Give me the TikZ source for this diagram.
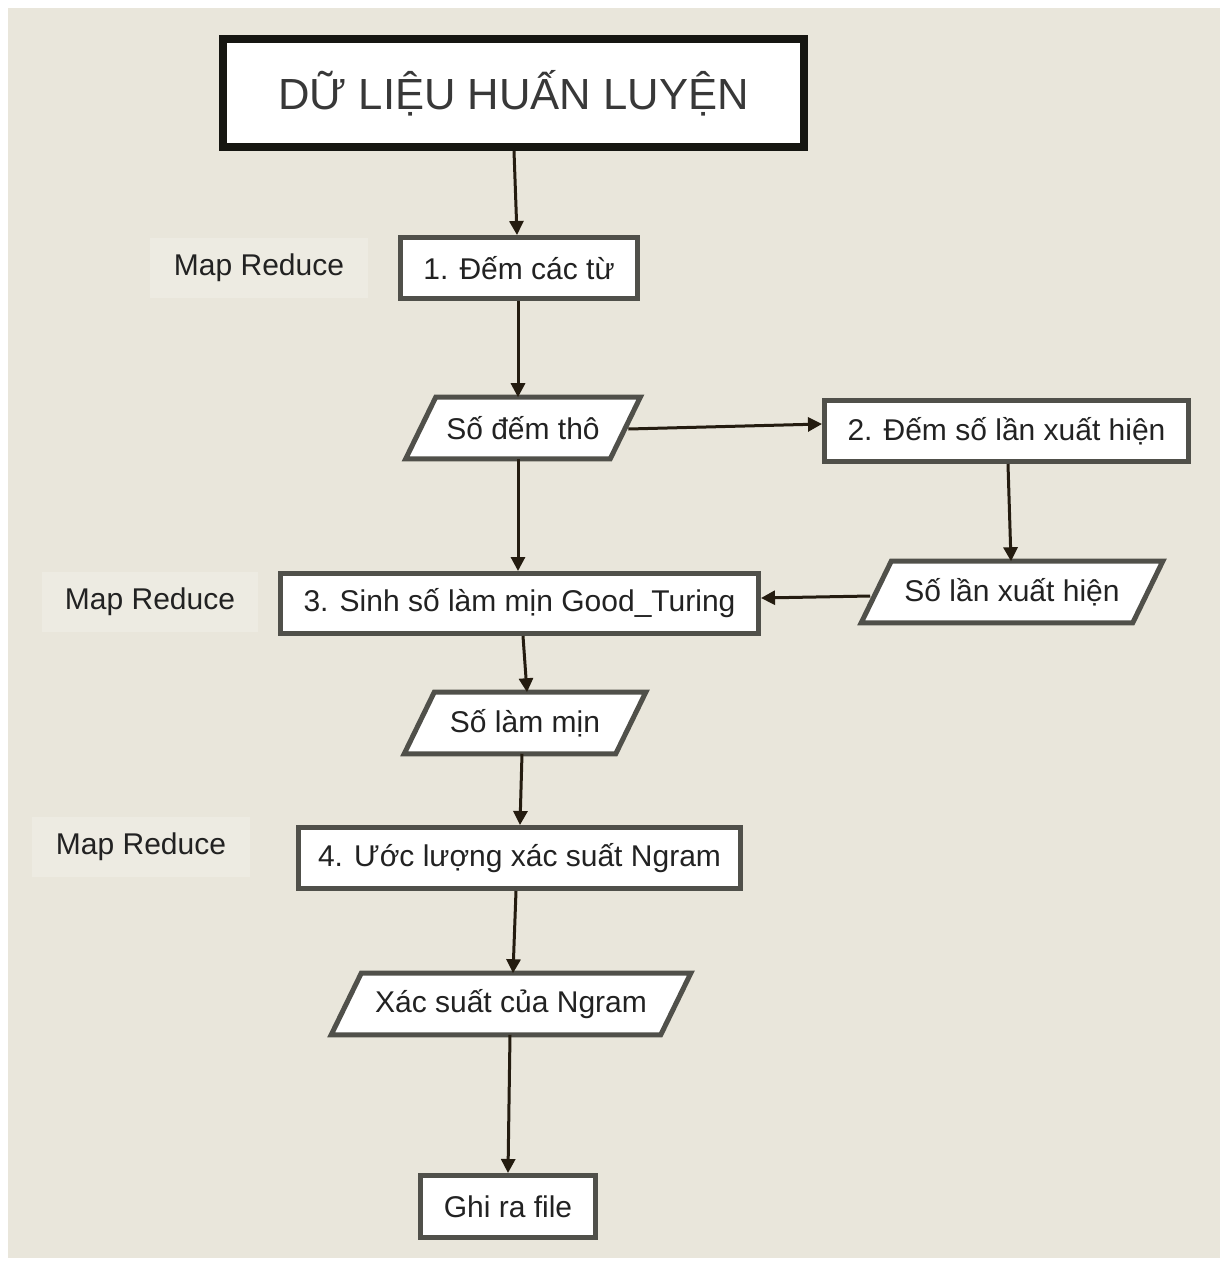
\documentclass[tikz,border=0pt]{standalone}
\usepackage{fontspec}
\setmainfont{Liberation Sans}
\usetikzlibrary{arrows.meta,calc,backgrounds}

\definecolor{page}{HTML}{E9E6DB}
\definecolor{tagfill}{HTML}{EDEBE2}
\definecolor{boxline}{HTML}{50504A}
\definecolor{heavyline}{HTML}{161611}
\definecolor{ink}{HTML}{222222}
\definecolor{flowline}{HTML}{241C10}

% lengths given in pixels of the 1229 x 1261 canvas
\newcommand\pxl[1]{#1*0.75pt}
\newcommand\lbl{\fontsize{22.5}{27}\selectfont}
\newcommand\ttl{\fontsize{32.7}{38}\selectfont}

% parallelogram outline around a plain node, drawn behind its text
\newcommand\slantbox[1]{%
  \begin{pgfonlayer}{background}
    \draw[paraline] ($(#1.north west)+(15,0)$) -- ($(#1.north east)+(15,0)$)
      -- ($(#1.south east)+(-15,0)$) -- ($(#1.south west)+(-15,0)$) -- cycle;
  \end{pgfonlayer}}

\begin{document}
\begin{tikzpicture}[x=0.75pt,y=-0.75pt,
  box/.style={draw=boxline, line width=\pxl{5}, fill=white, inner sep=0pt,
    font=\lbl, text=ink, minimum height=\pxl{61}},
  databox/.style={inner sep=0pt, font=\lbl, text=ink, minimum height=\pxl{61}},
  paraline/.style={draw=boxline, line width=\pxl{5}, fill=white, line join=miter},
  tag/.style={fill=tagfill, inner sep=0pt, font=\lbl, text=ink,
    minimum height=\pxl{60}},
  flow/.style={draw=flowline, line width=\pxl{3},
    -{Triangle[length=\pxl{14}, width=\pxl{14}]}}]

\begin{pgfonlayer}{background}
  \fill[white] (0,0) rectangle (1229,1261);
  \fill[page] (8,8) rectangle (1220,1258);
\end{pgfonlayer}
\useasboundingbox (0,0) rectangle (1229,1261);

% header
\node[draw=heavyline, line width=\pxl{8}, fill=white, inner sep=0pt,
  minimum width=\pxl{581}, minimum height=\pxl{108}, font=\ttl, text=ink!90]
  (title) at (513.5,93) {DỮ LIỆU HUẤN LUYỆN};

% processing steps
\node[box, minimum width=\pxl{237}] (b1) at (519,268) {1. Đếm các từ};
\node[box, minimum width=\pxl{364}] (b2) at (1006.5,431) {2. Đếm số lần xuất hiện};
\node[box, minimum width=\pxl{478}, minimum height=\pxl{60}] (b3) at (519.5,603.5) {3. Sinh số làm mịn Good\_Turing};
\node[box, minimum width=\pxl{442}] (b4) at (519.5,858) {4. Ước lượng xác suất Ngram};
\node[box, minimum width=\pxl{175}, minimum height=\pxl{62}] (b5) at (508,1206.5) {Ghi ra file};

% intermediate data
\node[databox, minimum width=\pxl{204}] (p1) at (523,428) {Số đếm thô};
\node[databox, minimum width=\pxl{271}] (p2) at (1012,592) {Số lần xuất hiện};
\node[databox, minimum width=\pxl{211}] (p3) at (525,723) {Số làm mịn};
\node[databox, minimum width=\pxl{329}] (p4) at (511,1004) {Xác suất của Ngram};
\slantbox{p1}
\slantbox{p2}
\slantbox{p3}
\slantbox{p4}

% side labels
\node[tag, minimum width=\pxl{218}] (m1) at (259,268) {Map Reduce};
\node[tag, minimum width=\pxl{216}] (m2) at (150,602) {Map Reduce};
\node[tag, minimum width=\pxl{218}] (m3) at (141,847) {Map Reduce};

% connectors
\draw[flow] ($(title.south)+(0.5,0)$) -- ($(b1.north)+(-2,0)$);
\draw[flow] ($(b1.south)+(-1,0)$) -- ($(p1.north)+(-5,0)$);
\draw[flow] ($(p1.east)+(3,1)$) -- ($(b2.west)+(0,-7)$);
\draw[flow] ($(b2.south)+(1.5,0)$) -- ($(p2.north)+(-1,0)$);
\draw[flow] ($(p1.south)+(-5,0)$) -- ($(b3.north)+(-1.5,0)$);
\draw[flow] ($(p2.west)+(-6,4)$) -- ($(b3.east)+(0,-5.5)$);
\draw[flow] ($(b3.south)+(3.5,0)$) -- ($(p3.north)+(2,0)$);
\draw[flow] ($(p3.south)+(-3,0)$) -- ($(b4.north)+(0.5,0)$);
\draw[flow] ($(b4.south)+(-3.5,0)$) -- ($(p4.north)+(2,0)$);
\draw[flow] ($(p4.south)+(-1,0)$) -- (b5.north);
\end{tikzpicture}
\end{document}
